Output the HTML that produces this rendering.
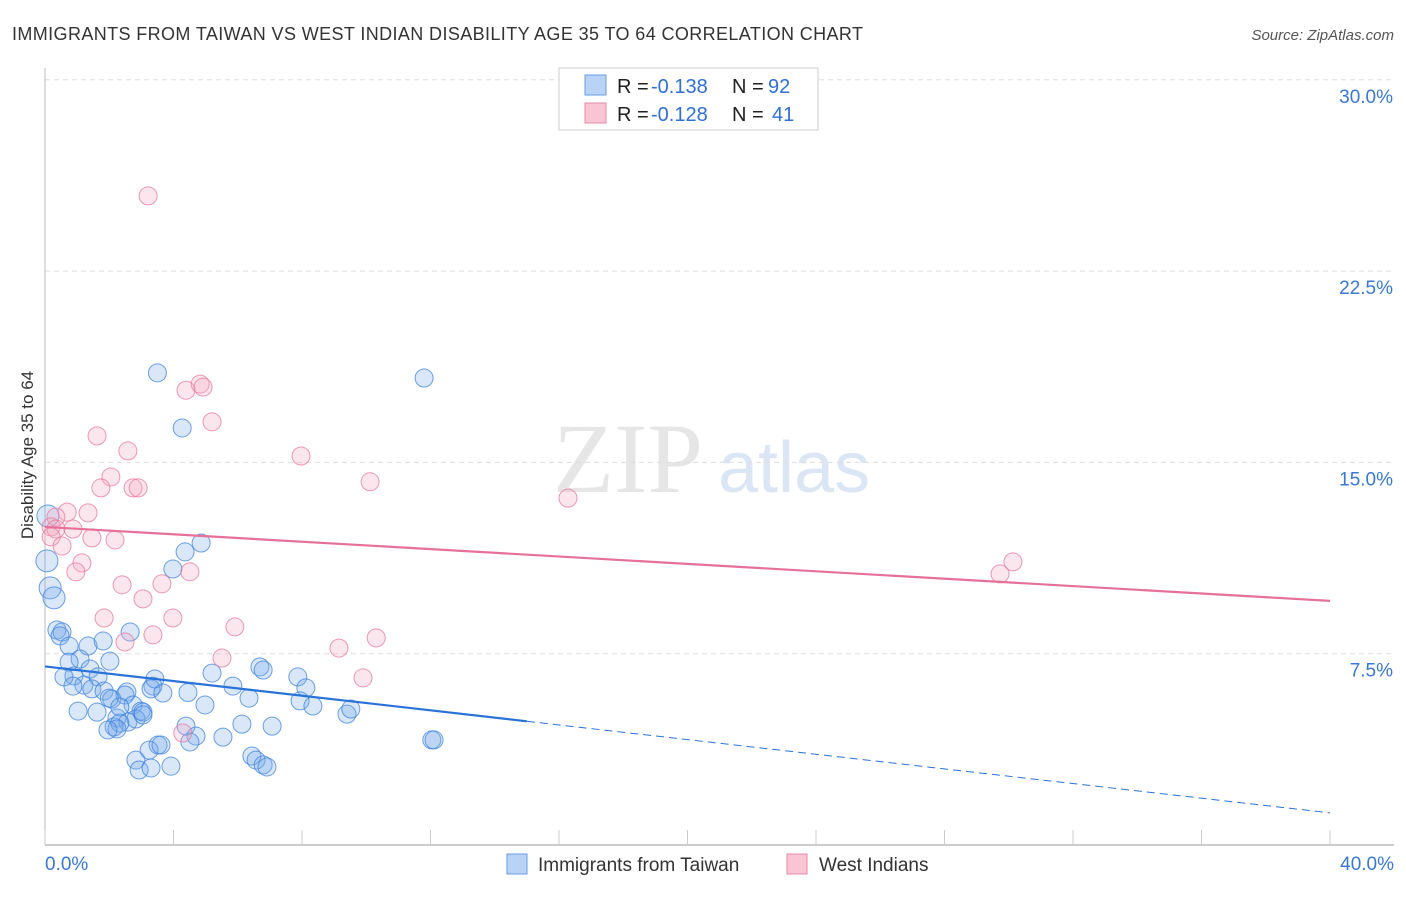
<!DOCTYPE html>
<html><head><meta charset="utf-8"><style>
body{margin:0;background:#fff;font-family:"Liberation Sans",sans-serif}
svg text{font-family:"Liberation Sans",sans-serif}
</style></head><body>
<svg id="c" width="1406" height="892" xmlns="http://www.w3.org/2000/svg">
<text x="12" y="40" font-size="18" fill="#333" textLength="851">IMMIGRANTS FROM TAIWAN VS WEST INDIAN DISABILITY AGE 35 TO 64 CORRELATION CHART</text>
<text x="1394" y="40" font-size="15" fill="#555" text-anchor="end" font-style="italic">Source: ZipAtlas.com</text>
<text x="33" y="455" font-size="17" fill="#333" text-anchor="middle" transform="rotate(-90 33 455)">Disability Age 35 to 64</text>
<text x="553" y="492" font-size="100" fill="#e6e6e6" font-family="Liberation Serif" style="font-family:'Liberation Serif',serif">ZIP</text>
<text x="718" y="492" font-size="72" fill="#dbe6f5">atlas</text>
<g id="grid"></g>
<g id="pts"></g>
<g id="lines"></g>
<g>
<rect x="559" y="68" width="259" height="62" fill="#fff" stroke="#ccc"/>
<rect x="585" y="75" width="21" height="20" fill="#b8d3f5" stroke="#6a9ee0"/>
<rect x="585" y="103" width="21" height="20" fill="#f9c5d4" stroke="#e58aa6"/>
<text x="617" y="93" font-size="20" fill="#222">R = </text><text x="651" y="93" font-size="20" fill="#2f6fd6">-0.138</text>
<text x="732" y="93" font-size="20" fill="#222">N = </text><text x="768" y="93" font-size="20" fill="#2f6fd6">92</text>
<text x="617" y="121" font-size="20" fill="#222">R = </text><text x="651" y="121" font-size="20" fill="#2f6fd6">-0.128</text>
<text x="732" y="121" font-size="20" fill="#222">N = </text><text x="772" y="121" font-size="20" fill="#2f6fd6">41</text>
</g>
<g>
<rect x="507" y="854" width="20" height="20" fill="#b8d3f5" stroke="#6a9ee0"/>
<text x="538" y="871" font-size="19" fill="#333">Immigrants from Taiwan</text>
<rect x="787" y="854" width="20" height="20" fill="#f9c5d4" stroke="#e58aa6"/>
<text x="819" y="871" font-size="19" fill="#333">West Indians</text>
</g>
</svg>
<script>
const yTicks=[7.5,15,22.5,30];
const yTickLabels=["7.5%","15.0%","22.5%","30.0%"];
const xLabels=["0.0%","40.0%"];
const blueX=[3.50,11.80,4.27,4.36,4.86,3.98,0.09,0.06,0.16,0.28,0.37,0.53,0.47,0.75,1.34,1.81,2.65,1.09,2.02,0.75,1.40,1.65,0.90,1.21,1.46,1.84,2.55,2.08,2.49,2.74,2.99,3.36,3.30,3.42,4.45,3.67,5.20,5.85,6.69,6.79,7.87,8.12,7.94,8.34,6.35,4.98,9.40,9.52,1.03,1.62,2.24,2.58,2.83,3.05,3.05,2.15,2.33,4.39,6.13,7.07,4.70,5.54,4.51,3.52,3.24,3.61,2.83,3.92,2.93,3.30,6.44,6.57,6.79,6.91,12.04,12.11,2.24,2.00,0.59,0.87,2.33,1.96];
const blueY=[18.51,18.31,16.35,11.49,11.84,10.82,12.90,11.14,10.08,9.69,8.43,8.35,8.20,7.80,7.80,8.00,8.35,7.29,7.21,7.17,6.90,6.59,6.63,6.27,6.12,6.04,6.00,5.72,5.88,5.49,5.25,6.23,6.12,6.51,5.98,5.96,6.74,6.23,6.98,6.86,6.59,6.16,5.65,5.45,5.76,5.49,5.13,5.33,5.25,5.21,4.98,4.82,4.94,5.21,5.10,4.63,4.78,4.66,4.74,4.66,4.27,4.23,4.04,3.92,3.72,3.92,3.33,3.09,2.94,3.02,3.49,3.33,3.14,3.06,4.12,4.12,4.55,5.76,6.59,6.23,5.41,4.51];
const pinkX=[3.21,4.39,4.83,4.92,5.20,1.62,2.58,7.97,2.05,1.74,2.74,2.90,10.12,16.28,0.69,0.34,1.34,0.19,0.34,0.87,0.19,1.46,2.18,0.53,1.15,0.96,4.51,2.40,3.64,3.05,1.84,3.98,5.91,3.36,2.49,10.31,9.15,5.51,9.90,4.29,30.13,29.73];
const pinkY=[25.45,17.83,18.07,17.95,16.59,16.04,15.45,15.25,14.43,14.00,14.00,14.00,14.24,13.60,13.05,12.86,13.02,12.47,12.39,12.39,12.08,12.04,11.96,11.72,11.06,10.71,10.71,10.20,10.24,9.65,8.90,8.90,8.55,8.24,7.96,8.12,7.72,7.33,6.55,4.39,11.10,10.63];
const X=v=>45+v/40*1285, Y=v=>845-v/7.5*191.3;
const ns="http://www.w3.org/2000/svg";
function mk(t,a,p){const e=document.createElementNS(ns,t);for(const k in a)e.setAttribute(k,a[k]);p.appendChild(e);return e;}
const g=document.getElementById('grid');
yTicks.forEach((t,i)=>{
 const l=mk('line',{x1:45,x2:1394,y1:Y(t),y2:Y(t),stroke:'#ddd','stroke-dasharray':'5,4'},g);
 
 
 const tx=mk('text',{x:1393,y:Y(t)+23,'font-size':19,fill:'#3a78d4','text-anchor':'end'},g);tx.textContent=yTickLabels[i];
 
 
});
const ax=mk('line',{x1:45,x2:1394,y1:845,y2:845,stroke:'#bbb','stroke-width':1.5},g);


const ay=mk('line',{x1:45,x2:45,y1:68,y2:845,stroke:'#bbb'},g);


for(let i=0;i<=10;i++){const tk=mk('line',{x1:X(i*4),x2:X(i*4),y1:830,y2:845,stroke:'#ccc'},g);
 
 }
[[0,45,'start'],[40,1394,'end']].forEach((d,i)=>{const t=mk('text',{x:d[1],y:870,'font-size':19,fill:'#3a78d4','text-anchor':d[2]},g);t.textContent=xLabels[i];
 
 });
const p=document.getElementById('pts');
blueX.forEach((v,i)=>{const c=mk('circle',{cx:X(v),cy:Y(blueY[i]),r:v<0.3?11:9,fill:'rgba(120,170,232,0.28)',stroke:'rgba(60,130,220,0.75)','stroke-width':1},p);
 
 });
pinkX.forEach((v,i)=>{const c=mk('circle',{cx:X(v),cy:Y(pinkY[i]),r:9,fill:'rgba(245,165,190,0.28)',stroke:'rgba(230,120,155,0.75)','stroke-width':1},p);
 
 });
const L=document.getElementById('lines');
const pk=mk('line',{x1:X(0),y1:Y(12.47),x2:X(40),y2:Y(9.57),stroke:'#e5709a','stroke-width':2.2},L);


const b1=mk('line',{x1:X(0),y1:Y(7.0),x2:X(15),y2:Y(4.85),stroke:'#2a72d8','stroke-width':2.2},L);


const b2=mk('line',{x1:X(15),y1:Y(4.85),x2:X(40),y2:Y(1.26),stroke:'#2a72d8','stroke-width':1,'stroke-dasharray':'8,5'},L);


</script>
</body></html>
